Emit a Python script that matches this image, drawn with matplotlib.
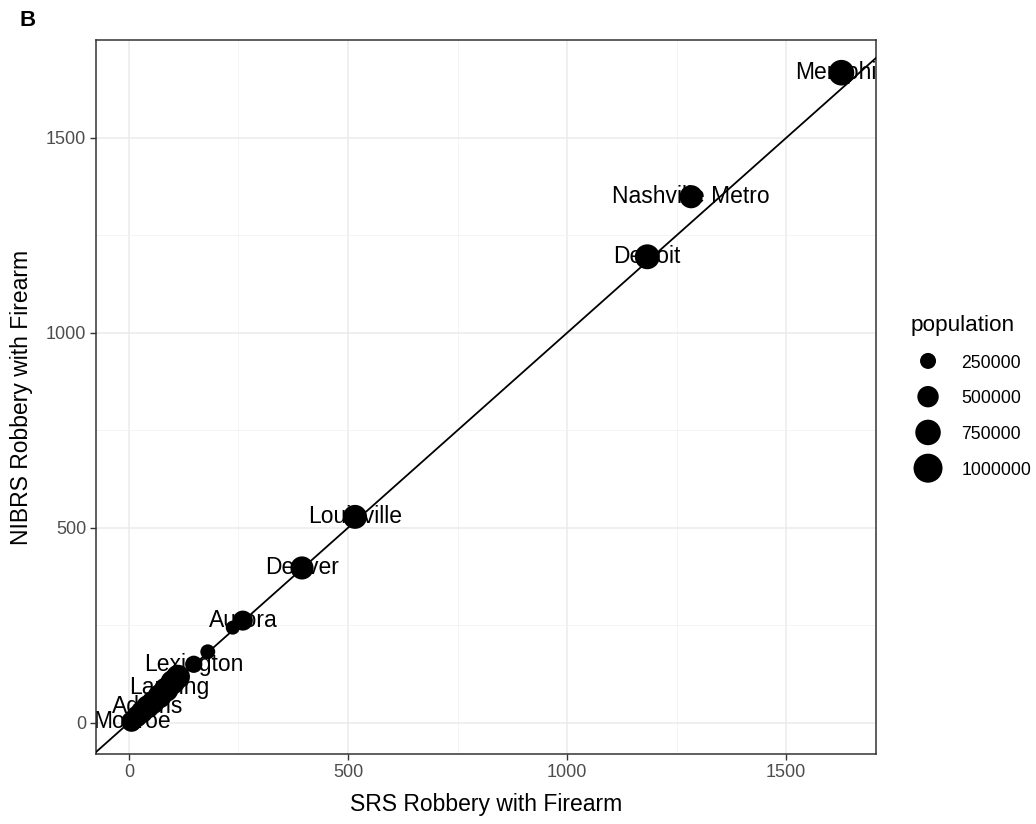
import matplotlib.pyplot as plt
import numpy as np

# city-level robbery-with-firearm counts: SRS vs NIBRS
cities = ["Memphis", "Nashville Metro", "Detroit", "Louisville", "Denver",
          "Aurora", "", "", "Lexington", "", "", "Lansing", "", "", "",
          "Adams", "", "", "Monroe"]
srs = [1626, 1283, 1183, 516, 395, 260, 237, 180, 148, 112, 100, 93, 85,
       70, 55, 43, 30, 18, 6]
nibrs = [1667, 1349, 1195, 528, 397, 262, 244, 182, 150, 118, 104, 90, 85,
         68, 52, 41, 28, 16, 3]
population = [760000, 600000, 710000, 650000, 600000, 430000, 180000,
              210000, 300000, 650000, 680000, 115000, 680000, 650000,
              600000, 600000, 550000, 500000, 450000]
legend_pops = [250000, 500000, 750000, 1000000]


def marker_area(pop):
    # diameter in px grows with sqrt(population), as in the size scale
    d_px = 3 + 0.026 * np.sqrt(np.asarray(pop, dtype=float))
    return (d_px * 72 / 100) ** 2


plt.rcParams["font.family"] = ["Liberation Sans", "DejaVu Sans"]

fig = plt.figure(figsize=(10.36, 8.24), dpi=100)
ax = fig.add_axes([0.0927, 0.085, 0.7529, 0.8665])

ax.set_xlim(-75, 1705)
ax.set_ylim(-80, 1751)

ax.set_xticks([0, 500, 1000, 1500])
ax.set_yticks([0, 500, 1000, 1500])
ax.set_xticks([250, 750, 1250], minor=True)
ax.set_yticks([250, 750, 1250], minor=True)
ax.grid(which="major", color="#EBEBEB", linewidth=1.1, zorder=0)
ax.grid(which="minor", color="#F2F2F2", linewidth=0.6, zorder=0)
ax.set_axisbelow(True)

for sp in ax.spines.values():
    sp.set_color("#333333")
    sp.set_linewidth(1.1)
ax.tick_params(which="major", length=4, width=1.0, color="#333333",
               labelsize=13, labelcolor="#4D4D4D", pad=3)
ax.tick_params(which="minor", length=0)

ax.axline((0, 0), slope=1, color="black", linewidth=1.3, zorder=3)

for name, x, y in zip(cities, srs, nibrs):
    if name:
        ax.text(x, y, name, ha="center", va="center", fontsize=16.5,
                color="black", zorder=2, clip_on=True)

ax.scatter(srs, nibrs, s=marker_area(population), color="black",
           edgecolors="none", zorder=4)

ax.set_xlabel("SRS Robbery with Firearm", fontsize=16.5, color="black",
              labelpad=9)
ax.set_ylabel("NIBRS Robbery with Firearm", fontsize=16.5, color="black",
              labelpad=9)

handles = [ax.scatter([], [], s=marker_area(p), color="black",
                      edgecolors="none") for p in legend_pops]
leg = ax.legend(handles, [str(p) for p in legend_pops], title="population",
                loc="center left", bbox_to_anchor=(1.035, 0.50),
                frameon=False, fontsize=12.7, title_fontsize=16.2,
                handleheight=1.2, labelspacing=0.95, handletextpad=0.9,
                borderaxespad=0)
leg._legend_box.align = "left"

fig.text(0.019, 0.975, "B", fontsize=16, fontweight="bold", va="center",
         ha="left")

fig.savefig("out.png", dpi=100)
